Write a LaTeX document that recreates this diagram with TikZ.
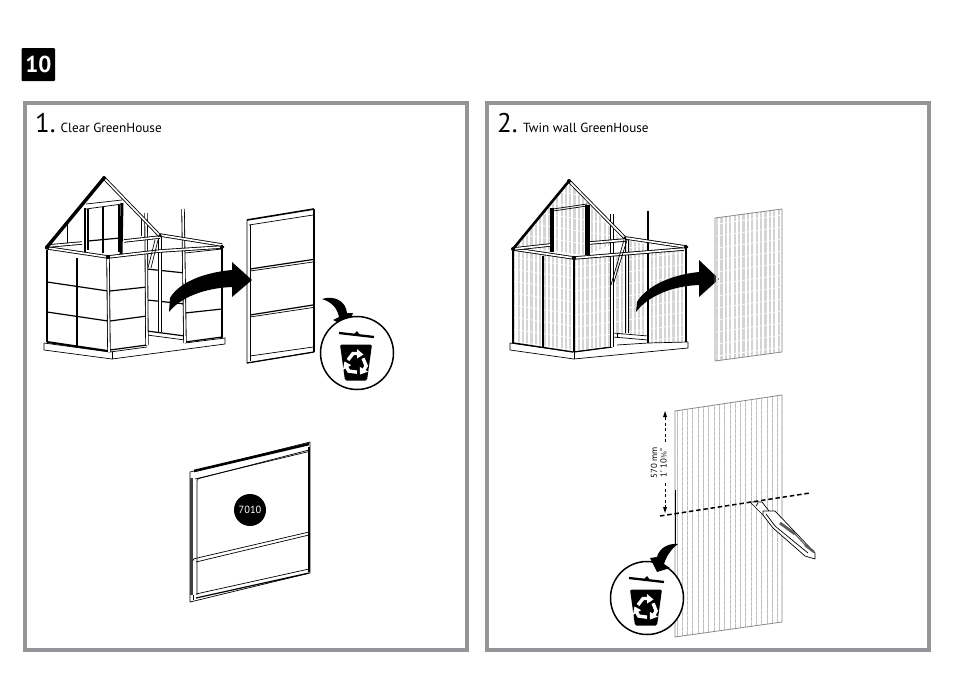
\documentclass[tikz,border=0pt]{standalone}
\usepackage{fontspec}
\setmainfont{PT Sans}
\newfontfamily\fracfont{DejaVu Sans}
\definecolor{framegray}{HTML}{939598}
\definecolor{stripegray}{HTML}{D4D4D4}
\definecolor{finegray}{HTML}{BDBDBD}
\definecolor{edgegray}{HTML}{8A8A8A}
\tikzset{
  frame/.style={draw=framegray,line width=4pt},
  ln/.style={line width=.7pt,black},
  med/.style={line width=1.2pt,black},
  thk/.style={line width=2pt,black},
  hvy/.style={line width=3.4pt,black},
  stripe/.style={line width=2.2pt,stripegray},
  finestripe/.style={line width=1pt,finegray},
  outline/.style={line width=.8pt,edgegray},
  cross/.style={white,line width=.65pt},
  finecross/.style={white,line width=.35pt},
}
\newcommand\dpost[2]{\draw[line width=3.4pt,black] #1 -- #2; \draw[line width=1.7pt,white] #1 -- #2;}
\newcommand\hatchfill[6][cross]{%
  \begin{scope}
    \clip #2;
    \foreach \xv in {#3,...,800} \draw[#5] (\xv,100) -- (\xv,660);
    \foreach \yv in {-100,#6,...,900} \draw[#1] (450,\yv) -- (850,{\yv+400*#4});
  \end{scope}}
\newcommand\trash[2]{%
  \begin{scope}[shift={(#1,#2)}]
    \draw[line width=1.5pt,fill=white] (0,0) circle (36.5);
    \draw[line width=2.3pt] (-18,-20) -- (17,-16);
    \fill (-3,-19) -- (0,-22) -- (3,-18) -- cycle;
    \fill[rounded corners=1.5pt] (-17,-8.5) -- (15,-8.5) -- (10,27.5) -- (-12,27.5) -- cycle;
    \foreach \ang in {0,120,240}{
      \begin{scope}[shift={(-1,10.5)},rotate=\ang]
        \draw[white,line width=3.4pt] (-8,-3.5) -- (-3,-10) -- (2,-10);
        \fill[white] (1,-14.5) -- (7.5,-9) -- (1,-5) -- cycle;
      \end{scope}}
  \end{scope}}
\begin{document}
\begin{tikzpicture}[x=1pt,y=-1pt]
\useasboundingbox (0,0) rectangle (954,675);
\fill[white] (0,0) rectangle (954,675);
% header
\fill[black,rounded corners=1pt] (21.5,48) rectangle (55,81);
\node[text=white,font=\bfseries\fontsize{23}{23}\selectfont,inner sep=0] (stepnum) at (38.5,64.5) {10};
\draw[frame] (25,103) rectangle (467,650);
\draw[frame] (487,103) rectangle (929,650);
\node[anchor=base west,inner sep=0,font=\fontsize{27}{27}\selectfont] (one) at (35,132.5) {1.};
\node[anchor=base west,inner sep=0,font=\fontsize{13.2}{14}\selectfont] (clear) at (60.5,132) {Clear GreenHouse};
\node[anchor=base west,inner sep=0,font=\fontsize{27}{27}\selectfont] (two) at (497,132) {2.};
\node[anchor=base west,inner sep=0,font=\fontsize{13.2}{14}\selectfont] (twin) at (523,132) {Twin wall GreenHouse};

% ===== House 1 =====
\draw[ln] (44,343) -- (44,350) -- (112,359) -- (225,344) -- (225,338) -- (185,343);
\draw[ln] (44,343) -- (110,352) -- (147,347);
\draw[ln] (112,352) -- (112,359);
\draw[thk] (47,342) -- (108,351);
\draw[med] (110,350) -- (147,345);
\draw[med] (185,342) -- (222,337);
\draw[med] (147,331) -- (185,336);
\draw[ln] (147,335) -- (185,340);
% walls
\draw[med] (47,250) -- (47,342);
\draw[med] (77,258) -- (77,346);
\draw[med] (222,247) -- (222,338);
\draw[med] (47,282) -- (108,291);
\draw[med] (47,312) -- (108,321);
\draw[med] (110,291) -- (147,287);
\draw[med] (110,321) -- (147,316);
\draw[med] (147,269) -- (185,273);
\draw[med] (147,300) -- (185,304);
\draw[med] (185,313) -- (222,309);
\draw[ln] (185,253) -- (222,249);
% inner door post
\dpost{(160,236)}{(160,332)}
\dpost{(108,258)}{(109,352)}
\dpost{(146,213)}{(147,345)}
\dpost{(183,209)}{(185,343)}
% gable back
\draw[ln] (67,222) -- (67,244);
\draw[ln] (141,218) -- (141,236);
\draw[line width=2.2pt] (85,208) -- (85,252);
\draw[line width=3pt] (122,203) -- (121,254);
\draw[ln] (86,204) -- (122,200);
\draw[ln] (86,209) -- (122,204);
\draw[med] (88,209) -- (88,250);
\draw[med] (103,207) -- (103,253);
\draw[med] (88,241) -- (120,238);
\draw[thk] (119,205) -- (119,252);
% eaves
\dpost{(48,248)}{(108,257)}
\dpost{(108,257)}{(160,251)}
\dpost{(160,251)}{(222,247)}
\dpost{(124,241)}{(160,237)}
\dpost{(160,235)}{(222,245)}
\dpost{(48,246)}{(82,243)}
\draw[ln] (155,240) -- (148,268);
\draw[ln] (158,240) -- (151,268);
% roof
\draw[hvy] (47,247) -- (104,178);
\dpost{(104,178)}{(160,236)}
\fill (104,178) circle (2);
\fill (47,247.5) circle (2.2);
\draw[fill=white,ln] (108,257) circle (1.8);
\draw[fill=white,ln] (222,247) circle (1.8);
\fill (160,235.5) circle (1.6);
% big arrow 1
\fill (170,298) .. controls (178,284) and (200,273) .. (232,270) -- (232,262) -- (252,280) -- (232,297) -- (232,287) .. controls (205,288) and (181,297) .. (169,312) -- cycle;

% ===== Removed panel =====
\draw[ln] (247,220) -- (247,363) -- (314,352);
\draw[line width=1pt] (250,225) -- (250,361);
\draw[line width=1.6pt] (247,220) -- (314,209);
\draw[ln] (249,225) -- (313,215);
\draw[line width=1.6pt] (314,209) -- (314,352);
\draw[line width=1.2pt] (250,269) -- (313,259.5);
\draw[ln] (250,271) -- (313,262);
\draw[line width=1.2pt] (250,315) -- (313,305);
\draw[ln] (250,317) -- (313,307.5);
\draw[ln] (250,356) -- (313,347);
\draw[line width=1.2pt] (247,363) -- (314,352);
% arrow to trash 1
\fill (322,299) .. controls (334,295) and (346,301) .. (347,313) -- (353,313) -- (348,327) -- (333,320) -- (339,317) .. controls (337,307) and (331,302) .. (322,299) -- cycle;
\trash{357}{353}

% ===== Panel 7010 =====
\draw[ln] (190,472) -- (310,442) -- (310,573) -- (190,602) -- cycle;
\draw[line width=2.6pt] (194,471) -- (309,444);
\fill[black!75] (190,478) rectangle (193,595);
\draw[line width=1.2pt] (309,447) -- (309,572);
\draw[ln,rounded corners=1.5pt] (197,595) -- (197,479) -- (309,450);
\draw[ln] (195,479) -- (309,451.5);
\draw[ln,rounded corners=1pt] (193,561) -- (193,559) -- (309,532);
\draw[ln] (196,562) -- (309,535);
\draw[ln] (196,594) -- (309,569);
\draw[line width=1.2pt] (196,598) -- (309,573);
\draw[ln] (193,595) -- (193,600);
\fill (250,510) circle (16);
\node[text=white,inner sep=0,font=\fontsize{10.4}{10}\selectfont] (code) at (250,510) {7010};

% ===== House 2 =====
\hatchfill{(569,183) -- (517,246) -- (552,252) -- (587,255) -- (622,240) -- cycle}{510,514.3}{0.147}{stripe}{-88}
\hatchfill{(514,250) -- (574,259) -- (574,352) -- (514,343) -- cycle}{510,514.3}{0.147}{stripe}{-88}
\hatchfill{(574,259) -- (612,254) -- (612,347) -- (574,352) -- cycle}{510,514.3}{-0.135}{stripe}{-88}
\hatchfill{(612,254) -- (625,252) -- (625,335) -- (612,335) -- cycle}{510,514.3}{-0.135}{stripe}{-88}
\hatchfill{(625,240) -- (648,245) -- (648,335) -- (625,333) -- cycle}{510,514.3}{-0.135}{stripe}{-88}
\hatchfill{(648,250) -- (686,247) -- (686,342) -- (648,343) -- cycle}{510,514.3}{-0.135}{stripe}{-88}
\draw[ln] (510,343) -- (510,350) -- (574,359) -- (688,348) -- (688,342);
\draw[ln] (510,343) -- (573,352) -- (612,347);
\draw[ln] (648,343) -- (688,342);
\draw[ln] (574,352) -- (574,359);
\draw[med] (514,343) -- (573,352);
\draw[med] (574,352) -- (612,347);
\draw[ln] (613,333) -- (648,336);
\draw[ln] (613,337) -- (648,340);
\draw[ln] (617,345) -- (648,343);
\draw[ln] (617,333) -- (617,338);
% posts
\draw[line width=1.6pt] (513,249) -- (513,343);
\draw[line width=1.1pt] (543,256) -- (543,347);
\draw[line width=1.6pt] (574,259) -- (574,352);
\draw[line width=1.4pt] (686,247) -- (686,342);
\draw[ln] (625,238) -- (625,333);
\draw[ln] (628,238) -- (628,333);
\draw[line width=4pt] (552,208) -- (552,252);
\draw[line width=5pt] (587,205) -- (587,255);
\draw[ln] (553,209) -- (587,204);
\draw[ln] (553,211) -- (587,206);
\dpost{(612,214)}{(612,347)}
\draw[line width=2.8pt] (648,211) -- (648,343);
% eaves
\dpost{(513,249)}{(574,258)}
\dpost{(574,258)}{(684,249)}
\dpost{(626,238)}{(686,247)}
\dpost{(590,243)}{(625,240)}
\dpost{(513,249)}{(550,245)}
\draw[ln] (624,240) -- (611,285);
\draw[ln] (627,240) -- (613,285);
% roof
\draw[line width=2.6pt] (513,249) -- (569,181);
\dpost{(569,181)}{(625,238)}
\fill (569,181) circle (2);
\fill (513,249) circle (2);
\draw[fill=white,ln] (574,258) circle (1.8);
\draw[fill=white,ln] (686,247) circle (1.8);
\fill (625,238) circle (1.6);
% big arrow 2
\fill (637,302) .. controls (645,288) and (668,275) .. (699,272) -- (699,260) -- (719,279) -- (699,297) -- (699,285) .. controls (672,286) and (648,296) .. (636,312) -- cycle;

% ===== Twin wall sheet small =====
\hatchfill{(715,218) -- (782,209) -- (782,352) -- (715,361) -- cycle}{717,721.4}{-0.135}{stripe}{-88}
\draw[outline] (715,218) -- (782,209) -- (782,352) -- (715,361) -- cycle;

% ===== Twin wall sheet large =====
\hatchfill[finecross]{(675,411) -- (782,395) -- (782,622) -- (675,637) -- cycle}{677,682.3}{-0.145}{finestripe}{-95}
\draw[outline] (675,411) -- (782,395) -- (782,622) -- (675,637) -- cycle;
\draw[line width=.8pt,black] (675,490) -- (675,545);
% dimension
\draw[line width=.9pt,dash pattern=on 3pt off 2.5pt] (665,442) -- (665,414);
\draw[line width=.9pt,dash pattern=on 3pt off 2.5pt] (665,483) -- (665,508);
\fill (665,411) -- (667,417) -- (663,417) -- cycle;
\fill (665,513) -- (667,507) -- (663,507) -- cycle;
\node[rotate=90,inner sep=0,font=\fontsize{8.8}{9}\selectfont] (mm) at (654,463) {570 mm};
\node[rotate=90,inner sep=0,font=\fontsize{8.8}{9}\selectfont] (inch) at (663.5,463) {1' 10{\fracfont\fontsize{7}{9}\selectfont ⅜}"};
% cut line
\draw[line width=1.5pt,dash pattern=on 4.5pt off 2.8pt] (660,516) -- (810,493);
% knife
\draw[ln,fill=white] (750,502) -- (762,502) -- (769,511) -- (763,515) -- cycle;
\draw[ln,fill=white] (763,511) -- (775,511) -- (815,553) -- (815,559) -- (805,556) -- (773,528) -- (763,515) -- cycle;
\draw[ln] (766,514) -- (775,526) -- (808,553);
\draw[line width=2.8pt,black!65] (780,523) -- (795,534);
\draw[line width=1pt,black!65] (795,534) -- (805,545);
\draw[line width=2.4pt,black!65] (805,545) -- (814,552);
\draw[ln] (758,503) -- (756,506);
% arrow to trash 2
\trash{647}{598}
\fill (678,544) .. controls (667,543) and (659,549) .. (657,557) -- (650,558) -- (657,572) -- (670,568) -- (664,564) .. controls (666,557) and (671,549) .. (678,544) -- cycle;
\end{tikzpicture}
\end{document}
